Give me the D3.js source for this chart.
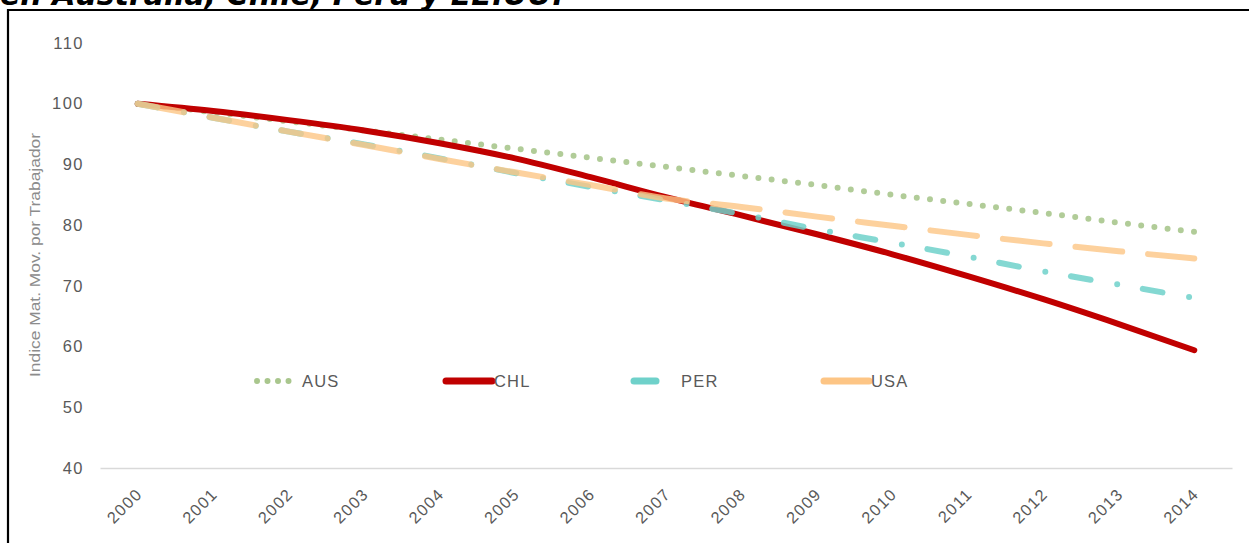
<!DOCTYPE html>
<html>
<head>
<meta charset="utf-8">
<script src="https://cdn.jsdelivr.net/npm/d3@7/dist/d3.min.js"></script>
<style>
  html, body { margin: 0; padding: 0; background: #fff; }
  svg { display: block; }
</style>
</head>
<body>
<svg id="chart" width="1249" height="543"></svg>
<script>
// Years on the category axis
const years = ["2000","2001","2002","2003","2004","2005","2006","2007","2008","2009","2010","2011","2012","2013","2014"];

// Index values (2000 = 100) per country
const AUS = [100, 98.6, 97.1, 95.6, 94.1, 92.6, 91.1, 89.6, 88.1, 86.6, 85.0, 83.5, 82.0, 80.4, 78.9];
const CHL = [100, 98.8, 97.3, 95.6, 93.5, 91.0, 87.9, 84.6, 81.6, 78.5, 75.2, 71.6, 67.8, 63.7, 59.4];
const PER = [100, 97.7, 95.4, 93.3, 91.0, 88.6, 86.3, 84.1, 81.8, 79.3, 77.1, 74.8, 72.4, 70.2, 68.0];
const USA = [100, 97.7, 95.4, 93.2, 90.9, 88.7, 86.6, 84.4, 83.0, 81.4, 79.9, 78.4, 77.0, 75.7, 74.5];

const yTicks = [40, 50, 60, 70, 80, 90, 100, 110];

const title = "en Australia, Chile, Perú y EE.UU.";
const yTitle = "Indice Mat. Mov. por Trabajador";

const series = [
  { name: "AUS", values: AUS, color: "#a9c68d", width: 6, dash: "0,13.3", opacity: 0.9 },
  { name: "CHL", values: CHL, color: "#c00000", width: 6, dash: null, opacity: 1 },
  { name: "PER", values: PER, color: "#6fd1ca", width: 6, dash: "20,27,0,26", opacity: 0.85 },
  { name: "USA", values: USA, color: "#fdc585", width: 6, dash: "47,26", opacity: 0.8 }
];

const FONT = "Liberation Sans, Arial, sans-serif";
const svg = d3.select("#chart");

// Title line, partly above the frame
svg.append("text")
  .attr("x", 0).attr("y", 5)
  .attr("font-family", "DejaVu Sans, Verdana, sans-serif")
  .attr("font-weight", "bold")
  .attr("font-style", "italic")
  .attr("font-size", 30)
  .attr("fill", "#000")
  .text(title);

// Frame around the chart area
svg.append("path")
  .attr("d", "M8,545 V10 H1260")
  .attr("fill", "none")
  .attr("stroke", "#000")
  .attr("stroke-width", 2.2);

const x = d3.scalePoint().domain(years).range([100, 1232]).padding(0.5);
const y = d3.scaleLinear().domain([40, 110]).range([468, 43]);

// Y axis
const yAxis = svg.append("g")
  .attr("transform", "translate(100,0)")
  .call(d3.axisLeft(y).tickValues(yTicks).tickSize(0).tickPadding(16));
yAxis.select(".domain").remove();
yAxis.selectAll("text")
  .attr("font-family", FONT)
  .attr("font-size", 16.5)
  .attr("letter-spacing", 1.5)
  .attr("fill", "#595959");

// X axis with baseline
const xAxis = svg.append("g")
  .attr("transform", "translate(0,468)")
  .call(d3.axisBottom(x).tickSize(0));
xAxis.select(".domain")
  .attr("stroke", "#d9d9d9")
  .attr("stroke-width", 1.3);
xAxis.selectAll("text")
  .attr("font-family", FONT)
  .attr("font-size", 16.3)
  .attr("letter-spacing", 1.4)
  .attr("fill", "#595959")
  .attr("text-anchor", "end")
  .attr("transform", "translate(1,23) rotate(-45)")
  .attr("dy", "0.35em")
  .attr("y", 0);

// Y axis title
svg.append("text")
  .attr("transform", "translate(39.5,255) rotate(-90)")
  .attr("text-anchor", "middle")
  .attr("font-family", FONT)
  .attr("font-size", 14.5)
  .attr("textLength", 244)
  .attr("lengthAdjust", "spacingAndGlyphs")
  .attr("fill", "#8c8c8c")
  .text(yTitle);

// Lines
const line = d3.line()
  .x((d, i) => x(years[i]))
  .y(d => y(d))
  .curve(d3.curveMonotoneX);

series.forEach(s => {
  svg.append("path")
    .datum(s.values)
    .attr("d", line)
    .attr("fill", "none")
    .attr("stroke", s.color)
    .attr("stroke-width", s.width)
    .attr("stroke-linecap", "round")
    .attr("stroke-linejoin", "round")
    .attr("stroke-dasharray", s.dash)
    .attr("stroke-opacity", s.opacity);
});

// Legend
const legendY = 381;
const legendItems = [
  { s: series[0], x1: 257, x2: 297, tx: 302 },
  { s: series[1], x1: 446, x2: 492, tx: 494 },
  { s: series[2], x1: 634, x2: 656, tx: 681 },
  { s: series[3], x1: 824, x2: 869, tx: 871 }
];
const legend = svg.append("g");
legendItems.forEach(it => {
  legend.append("line")
    .attr("x1", it.x1).attr("x2", it.x2)
    .attr("y1", legendY).attr("y2", legendY)
    .attr("stroke", it.s.color)
    .attr("stroke-width", it.s.name === "AUS" ? 6 : 7)
    .attr("stroke-linecap", "round")
    .attr("stroke-dasharray", it.s.name === "AUS" ? "0,10.5" : null);
  legend.append("text")
    .attr("x", it.tx).attr("y", legendY)
    .attr("dy", "0.36em")
    .attr("font-family", FONT)
    .attr("font-size", 16.5)
    .attr("letter-spacing", 1.2)
    .attr("fill", "#595959")
    .text(it.s.name);
});
</script>
</body>
</html>
